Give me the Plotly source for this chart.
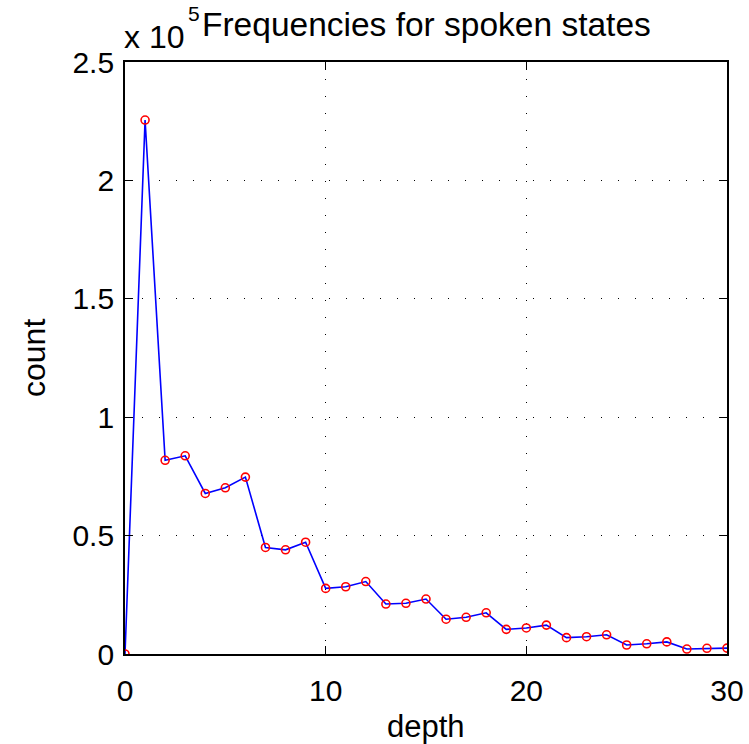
import plotly.graph_objects as go

depth = list(range(0, 31))
count = [0, 225500, 81800, 83700, 67800, 70200, 74700, 45000, 44000, 47200,
         27700, 28400, 30600, 21100, 21400, 23200, 14700, 15500, 17400, 10400,
         11000, 12200, 6900, 7300, 8100, 3800, 4300, 5100, 2100, 2400, 2500]

y_tickvals = [0, 50000, 100000, 150000, 200000, 250000]
y_ticktext = ["0", "0.5", "1", "1.5", "2", "2.5"]
x_tickvals = [0, 10, 20, 30]

FAM = "Liberation Sans, Arial, sans-serif"
tickfont = dict(family=FAM, size=30, color="black")

L, R, T, B = 125, 22, 62, 90
W, H = 749, 744
pw, ph = W - L - R, H - T - B

fig = go.Figure()
fig.add_trace(go.Scatter(
    x=depth, y=count, mode="lines+markers",
    line=dict(color="#0000ff", width=1.6),
    marker=dict(symbol="circle-open", color="#ff0000", size=8,
                line=dict(width=1.6, color="#ff0000")),
    showlegend=False,
))

axis_common = dict(
    showline=True, linecolor="black", linewidth=1.8, mirror="ticks",
    ticks="inside", ticklen=8, tickcolor="black", tickwidth=1.2,
    showgrid=True, gridcolor="black", griddash="1px,16px", gridwidth=1,
    zeroline=False, tickfont=tickfont, automargin=False,
)

fig.update_layout(
    width=W, height=H,
    paper_bgcolor="white", plot_bgcolor="white",
    margin=dict(l=L, r=R, t=T, b=B),
    font=tickfont,
    xaxis=dict(range=[0, 30], tickvals=x_tickvals, ticklabelstandoff=9, **axis_common),
    yaxis=dict(range=[0, 250000], tickvals=y_tickvals, ticktext=y_ticktext,
               ticklabelstandoff=3, **axis_common),
)

# title
fig.add_annotation(text="Frequencies for spoken states", xref="paper", yref="paper",
                   x=0.5, y=1, xanchor="center", yanchor="bottom", yshift=17,
                   showarrow=False, font=dict(family=FAM, size=33.5, color="black"))
# exponent label
fig.add_annotation(text="x 10", xref="paper", yref="paper", x=0, y=1,
                   xanchor="left", yanchor="bottom", yshift=5, xshift=-3, showarrow=False,
                   font=dict(family=FAM, size=32, color="black"))
fig.add_annotation(text="5", xref="paper", yref="paper", x=65 / pw, y=1,
                   xanchor="left", yanchor="bottom", yshift=35, xshift=-4, showarrow=False,
                   font=dict(family=FAM, size=21, color="black"))
# axis titles
fig.add_annotation(text="depth", xref="paper", yref="paper", x=0.5, y=0,
                   xanchor="center", yanchor="top", yshift=-53, showarrow=False,
                   font=dict(family=FAM, size=31, color="black"))
fig.add_annotation(text="count", xref="paper", yref="paper", x=(34 - L) / pw, y=0.5,
                   xanchor="center", yanchor="middle", textangle=-90, showarrow=False,
                   font=dict(family=FAM, size=32, color="black"))

fig.write_html("out.html", config={"displayModeBar": False},
               post_script="document.body.style.margin='0';document.body.style.overflow='hidden';")
